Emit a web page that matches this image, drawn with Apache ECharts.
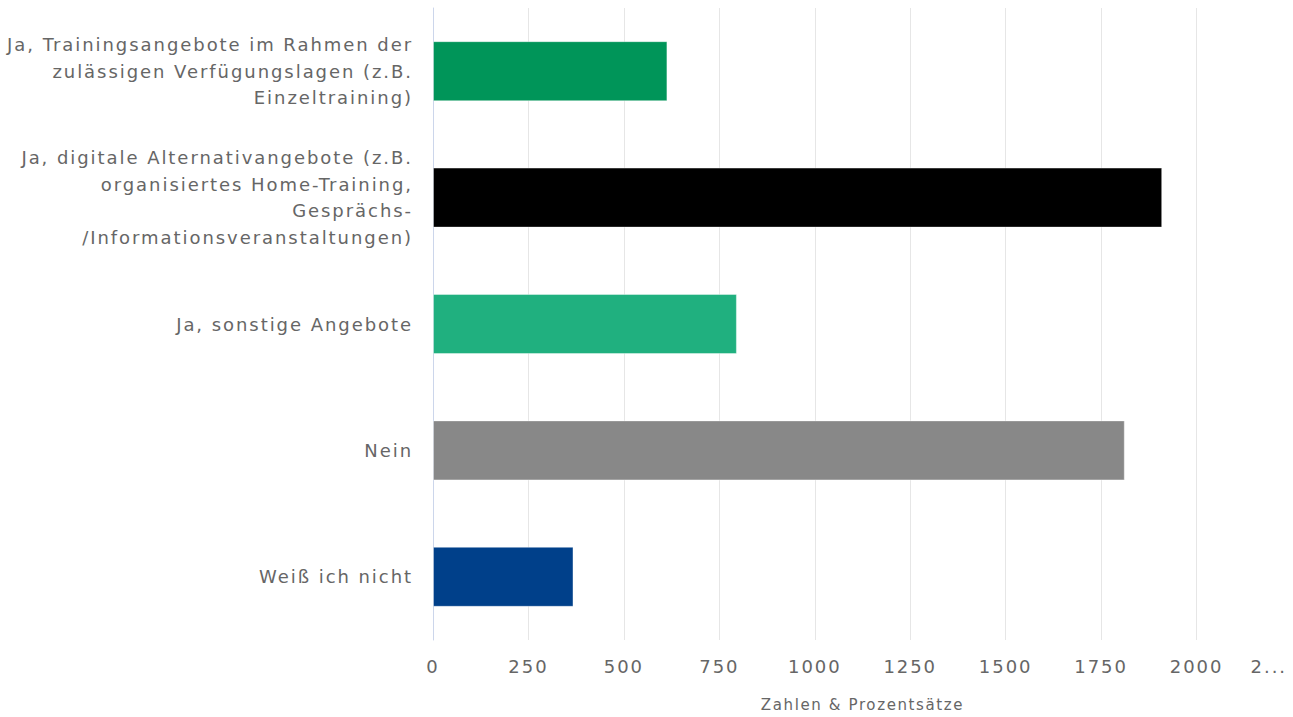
<!DOCTYPE html>
<html>
<head>
<meta charset="utf-8">
<script src="https://cdn.jsdelivr.net/npm/echarts@6/dist/echarts.min.js"></script>
<style>
  html, body { margin: 0; padding: 0; background: #fff; }
  #chart { width: 1293px; height: 717px; }
  /* chart text is set with slightly open tracking */
  #chart svg text { letter-spacing: 0.108em; }
</style>
</head>
<body>
<div id="chart"></div>
<script>
// Answer categories (wrapped as shown on the axis)
const categories = [
  'Ja, Trainingsangebote im Rahmen der\nzulässigen Verfügungslagen (z.B.\nEinzeltraining)',
  'Ja, digitale Alternativangebote (z.B.\norganisiertes Home-Training,\nGesprächs-\n/Informationsveranstaltungen)',
  'Ja, sonstige Angebote',
  'Nein',
  'Weiß ich nicht'
];
// Number of responses per category
const values = [614, 1910, 796, 1812, 368];
// Bar colour per category
const barColors = ['#009559', '#000000', '#20b07f', '#888888', '#00408a'];
// Value axis ticks
const axisMax = 2250;
const axisStep = 250;

const chart = echarts.init(document.getElementById('chart'), null, { renderer: 'svg' });

const font = '"DejaVu Sans", sans-serif';

chart.setOption({
  animation: false,
  grid: { left: 433, right: 1, top: 8, bottom: 75, containLabel: false },
  xAxis: {
    type: 'value',
    min: 0,
    max: axisMax,
    interval: axisStep,
    name: 'Zahlen & Prozentsätze',
    nameLocation: 'middle',
    nameGap: 57,
    nameTextStyle: { color: '#666', fontSize: 15, fontFamily: font },
    axisLine: { show: false },
    axisTick: { show: false },
    axisLabel: {
      color: '#666',
      fontSize: 18,
      fontFamily: font,
      margin: 17,
      formatter: function (v) {
        return v === axisMax ? '{m|' + String(v).charAt(0) + '...}' : String(v);
      },
      rich: { m: { color: '#666', fontSize: 18, fontFamily: font, padding: [0, 5, 0, 0] } },
      alignMaxLabel: 'right'
    },
    splitLine: { show: true, showMaxLine: false, lineStyle: { color: '#e6e6e6', width: 1 } }
  },
  yAxis: {
    type: 'category',
    data: categories,
    inverse: true,
    axisLine: { show: true, lineStyle: { color: '#ccd6eb', width: 1 } },
    axisTick: { show: false },
    axisLabel: {
      color: '#666',
      fontSize: 18,
      fontFamily: font,
      lineHeight: 26.5,
      margin: 20,
      align: 'right'
    },
    splitLine: { show: false }
  },
  series: [{
    type: 'bar',
    data: values.map(function (v, i) {
      return { value: v, itemStyle: { color: barColors[i] } };
    }),
    barWidth: '47.5%',
    itemStyle: { borderColor: 'rgba(255,255,255,0.4)', borderWidth: 1 }
  }]
});
</script>
</body>
</html>
